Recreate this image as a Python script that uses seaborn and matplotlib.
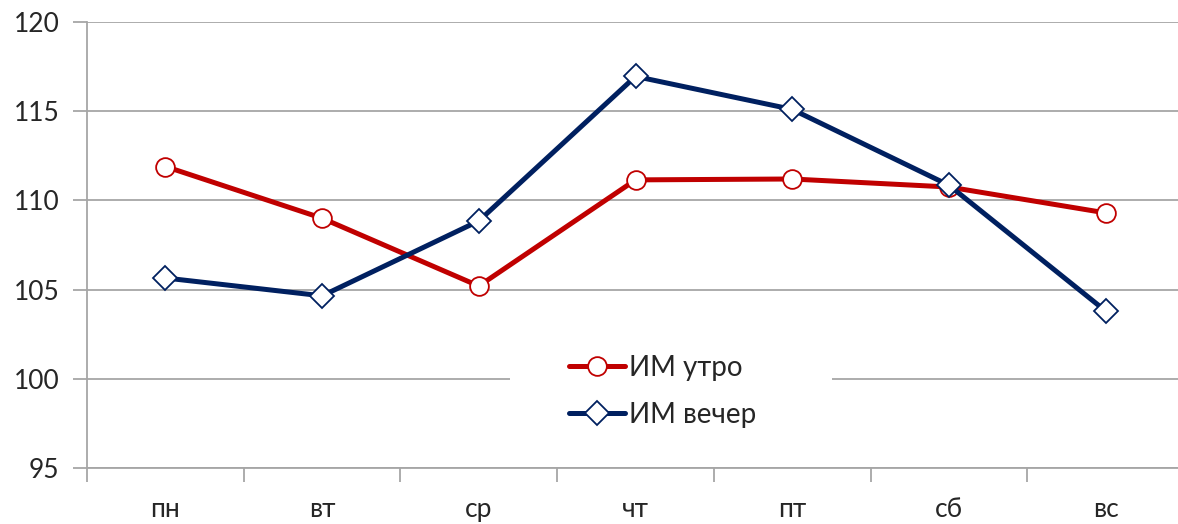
import matplotlib
matplotlib.use("Agg")
import matplotlib.pyplot as plt
from matplotlib.patches import Rectangle
import seaborn as sns
import numpy as np

# data
days = ['пн', 'вт', 'ср', 'чт', 'пт', 'сб', 'вс']
morning = [111.9, 109.0, 105.2, 111.15, 111.2, 110.75, 109.3]
evening = [105.65, 104.65, 108.85, 116.95, 115.1, 110.85, 103.8]
y_ticks = [95, 100, 105, 110, 115, 120]

sns.set_style("white")
plt.rcParams['font.family'] = ['Lato', 'DejaVu Sans']

fig = plt.figure(figsize=(11.78, 5.24), dpi=100)
ax = fig.add_axes([0.0739, 0.1069, 0.9312, 0.8511])

grid_col = '#a6a6a6'
sns.lineplot(x=days, y=morning, ax=ax, color='#C00000', lw=3.6, marker='o',
             ms=13.5, mfc='white', mec='#C00000', mew=1.3, label='ИМ утро', sort=False)
sns.lineplot(x=days, y=evening, ax=ax, color='#002060', lw=3.6, marker='D',
             ms=12, mfc='white', mec='#002060', mew=1.3, label='ИМ вечер', sort=False)

ax.set_ylim(95, 120)
ax.set_xlim(-0.5, len(days) - 0.5)
ax.set_yticks(y_ticks)
ax.set_yticklabels([str(t) for t in y_ticks], fontsize=19)
ax.set_xticks(range(len(days)))
ax.set_xticklabels(days, fontsize=19)
ax.set_xticks(np.arange(-0.5, len(days)), minor=True)
ax.tick_params(which='both', bottom=True, left=True)
ax.tick_params(axis='x', which='major', length=0, pad=21)
ax.tick_params(axis='x', which='minor', length=10, width=1.3, color=grid_col, direction='out')
ax.tick_params(axis='y', length=10, width=1.3, color=grid_col, direction='out', pad=10)

ax.yaxis.grid(True, color=grid_col, lw=1.3)
ax.set_axisbelow(True)
for side in ['top', 'right']:
    ax.spines[side].set_visible(False)
for side in ['left', 'bottom']:
    ax.spines[side].set_color(grid_col)
    ax.spines[side].set_linewidth(1.3)
ax.set_xlabel('')
ax.set_ylabel('')

# white legend area breaking the gridline behind it
ax.add_patch(Rectangle((0.3856, 0.06), 0.2935, 0.22, transform=ax.transAxes,
                       fc='white', ec='none', zorder=1.5))
ax.legend(loc='center', bbox_to_anchor=(0.525, 0.1715), fontsize=20,
          frameon=False, handlelength=2.0, handletextpad=0.15,
          labelspacing=0.75, borderaxespad=0)

fig.savefig('out.png', dpi=100)
